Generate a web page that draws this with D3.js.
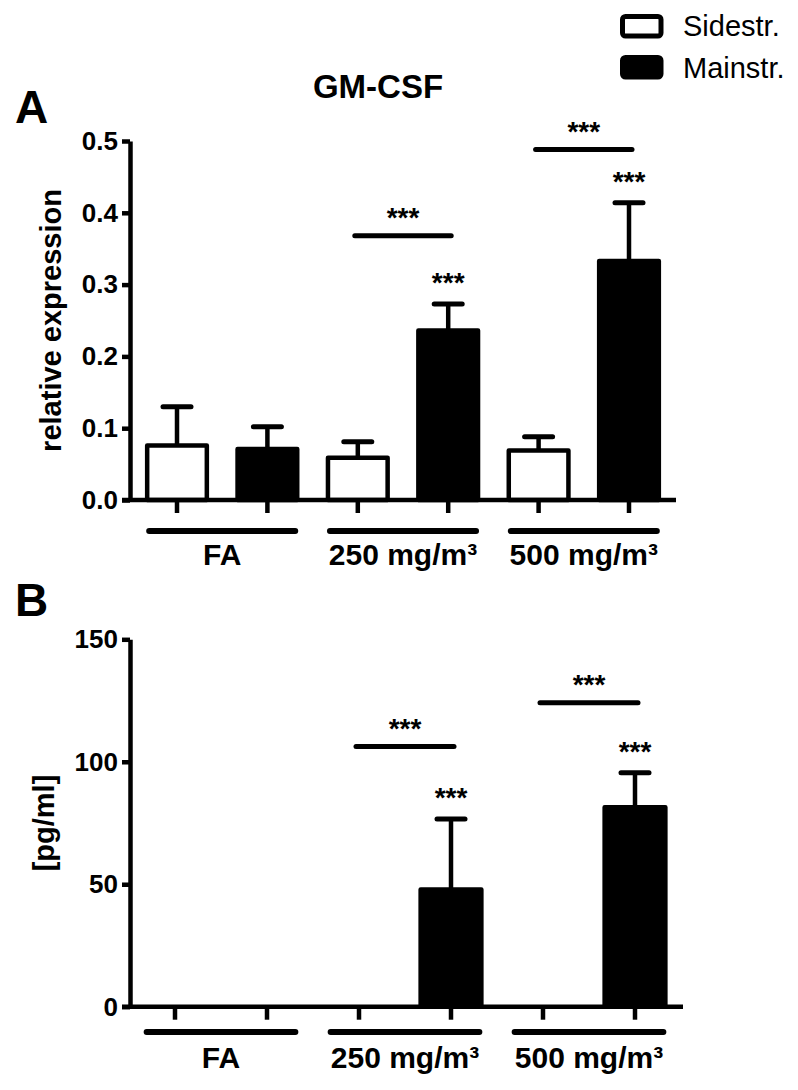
<!DOCTYPE html>
<html>
<head>
<meta charset="utf-8">
<script src="https://cdn.jsdelivr.net/npm/d3@7"></script>
<style>
  body { margin: 0; background: #fff; }
  svg { display: block; font-family: "Liberation Sans", Arial, sans-serif; }
</style>
</head>
<body>
<div id="main-chart"></div>
<script>
const width = 798;
const height = 1090;

const groups = ["FA", "250 mg/m³", "500 mg/m³"];
const seriesNames = ["Sidestr.", "Mainstr."];

// panel A - relative expression
const exprSide = [0.076, 0.059, 0.069];
const exprSideErr = [0.054, 0.022, 0.019];
const exprMain = [0.071, 0.236, 0.333];
const exprMainErr = [0.031, 0.037, 0.081];
const exprTicks = [0, 0.1, 0.2, 0.3, 0.4, 0.5];
const exprBrackets = [null, 0.368, 0.488];
const exprMainStars = ["", "***", "***"];

// panel B - pg/ml
const pgSide = [0, 0, 0];
const pgSideErr = [0, 0, 0];
const pgMain = [0, 47.8, 81.4];
const pgMainErr = [0, 28.8, 14.1];
const pgTicks = [0, 50, 100, 150];
const pgBrackets = [null, 106.2, 124.1];
const pgMainStars = ["", "***", "***"];

const lineW = 4.5;

const panelA = {
  letter: "A", letterY: 123,
  yTop: 141, yBottom: 500,
  xLeft: 131.8, xRight: 674.2, axisEnd: 676,
  groupLineY: 531, groupLabelY: 565,
  title: "relative expression", titleX: 61,
  format: d3.format(".1f"),
};
const panelB = {
  letter: "B", letterY: 616,
  yTop: 639.3, yBottom: 1006.7,
  xLeft: 129, xRight: 681, axisEnd: 683,
  groupLineY: 1032, groupLabelY: 1068,
  title: "[pg/ml]", titleX: 54,
  format: d3.format("d"),
};

const drawPanel = (svg, cfg, side, sideErr, main, mainErr, ticks, brackets, mainStars) => {
  const y = d3
    .scaleLinear()
    .domain([0, ticks[ticks.length - 1]])
    .range([cfg.yBottom, cfg.yTop]);
  const xGroup = d3.scaleBand().domain(groups).range([cfg.xLeft, cfg.xRight]).padding(0);
  const xSeries = d3
    .scaleBand()
    .domain(seriesNames)
    .range([0, xGroup.bandwidth()])
    .paddingInner(0.34)
    .paddingOuter(0.17);

  const rows = groups.flatMap((grp, i) => [
    { group: grp, series: seriesNames[0], value: side[i], err: sideErr[i] },
    { group: grp, series: seriesNames[1], value: main[i], err: mainErr[i] },
  ]);
  const barX = (d) => xGroup(d.group) + xSeries(d.series);
  const center = (grp, s) => xGroup(grp) + xSeries(s) + xSeries.bandwidth() / 2;

  const g = svg.append("g");

  // panel letter
  g.append("text")
    .attr("x", 15)
    .attr("y", cfg.letterY)
    .attr("font-size", 46)
    .attr("font-weight", "bold")
    .text(cfg.letter);

  // error bars (upper only)
  const errRows = rows.filter((d) => d.err > 0);
  g.selectAll(".err-stem")
    .data(errRows)
    .join("line")
    .attr("class", "err-stem")
    .attr("x1", (d) => center(d.group, d.series))
    .attr("x2", (d) => center(d.group, d.series))
    .attr("y1", (d) => y(d.value))
    .attr("y2", (d) => y(d.value + d.err))
    .attr("stroke", "#000")
    .attr("stroke-width", lineW);
  g.selectAll(".err-cap")
    .data(errRows)
    .join("line")
    .attr("class", "err-cap")
    .attr("x1", (d) => center(d.group, d.series) - 14)
    .attr("x2", (d) => center(d.group, d.series) + 14)
    .attr("y1", (d) => y(d.value + d.err))
    .attr("y2", (d) => y(d.value + d.err))
    .attr("stroke", "#000")
    .attr("stroke-width", 5)
    .attr("stroke-linecap", "round");

  // bars
  g.selectAll(".bar")
    .data(rows.filter((d) => d.value > 0))
    .join("rect")
    .attr("class", "bar")
    .attr("x", barX)
    .attr("width", xSeries.bandwidth())
    .attr("y", (d) => y(d.value))
    .attr("height", (d) => y(0) - y(d.value))
    .attr("fill", (d) => (d.series === seriesNames[0] ? "#fff" : "#000"))
    .attr("stroke", "#000")
    .attr("stroke-width", lineW)
    .attr("stroke-linejoin", "round");

  // y axis
  g.append("g")
    .attr("transform", "translate(130,0)")
    .call(
      d3.axisLeft(y).tickValues(ticks).tickSize(8).tickSizeOuter(0).tickPadding(4).tickFormat(cfg.format)
    )
    .call((a) => a.select(".domain").attr("stroke-width", lineW))
    .call((a) => a.selectAll(".tick line").attr("stroke-width", lineW))
    .call((a) =>
      a.selectAll(".tick text")
        .attr("font-family", null)
        .attr("font-size", 26)
        .attr("font-weight", "bold")
        .attr("fill", "#000")
    );

  // x axis line + ticks at bar centres
  g.append("line")
    .attr("x1", 122)
    .attr("x2", cfg.axisEnd)
    .attr("y1", y(0))
    .attr("y2", y(0))
    .attr("stroke", "#000")
    .attr("stroke-width", lineW);
  g.selectAll(".x-tick")
    .data(rows)
    .join("line")
    .attr("class", "x-tick")
    .attr("x1", (d) => center(d.group, d.series))
    .attr("x2", (d) => center(d.group, d.series))
    .attr("y1", y(0))
    .attr("y2", y(0) + 13)
    .attr("stroke", "#000")
    .attr("stroke-width", lineW);

  // y title
  g.append("text")
    .attr("transform", `translate(${cfg.titleX},${(cfg.yTop + cfg.yBottom) / 2}) rotate(-90)`)
    .attr("text-anchor", "middle")
    .attr("font-size", 29)
    .attr("font-weight", "bold")
    .text(cfg.title);

  // group lines and labels
  g.selectAll(".group-line")
    .data(groups)
    .join("line")
    .attr("class", "group-line")
    .attr("x1", (grp) => xGroup(grp) + xSeries(seriesNames[0]) + 2)
    .attr("x2", (grp) => xGroup(grp) + xSeries(seriesNames[1]) + xSeries.bandwidth() - 2)
    .attr("y1", cfg.groupLineY)
    .attr("y2", cfg.groupLineY)
    .attr("stroke", "#000")
    .attr("stroke-width", 6)
    .attr("stroke-linecap", "round");
  g.selectAll(".group-label")
    .data(groups)
    .join("text")
    .attr("class", "group-label")
    .attr("x", (grp) => xGroup(grp) + xGroup.bandwidth() / 2)
    .attr("y", cfg.groupLabelY)
    .attr("text-anchor", "middle")
    .attr("font-size", 30)
    .attr("font-weight", "bold")
    .text((grp) => grp);

  // significance brackets
  const brk = groups.map((grp, i) => ({ group: grp, v: brackets[i] })).filter((d) => d.v !== null);
  g.selectAll(".bracket")
    .data(brk)
    .join("line")
    .attr("class", "bracket")
    .attr("x1", (d) => center(d.group, seriesNames[0]) - 3)
    .attr("x2", (d) => center(d.group, seriesNames[1]) + 3)
    .attr("y1", (d) => y(d.v))
    .attr("y2", (d) => y(d.v))
    .attr("stroke", "#000")
    .attr("stroke-width", 5)
    .attr("stroke-linecap", "round");
  g.selectAll(".bracket-star")
    .data(brk)
    .join("text")
    .attr("class", "bracket-star")
    .attr("x", (d) => (center(d.group, seriesNames[0]) + center(d.group, seriesNames[1])) / 2)
    .attr("y", (d) => y(d.v) - 9)
    .attr("text-anchor", "middle")
    .attr("font-size", 28)
    .attr("font-weight", "bold")
    .text("***");

  // stars over Mainstr. bars
  g.selectAll(".main-star")
    .data(groups.map((grp, i) => ({ group: grp, top: main[i] + mainErr[i], s: mainStars[i] })).filter((d) => d.s))
    .join("text")
    .attr("class", "main-star")
    .attr("x", (d) => center(d.group, seriesNames[1]))
    .attr("y", (d) => y(d.top) - 12)
    .attr("text-anchor", "middle")
    .attr("font-size", 28)
    .attr("font-weight", "bold")
    .text((d) => d.s);
};

const main = () => {
  const svg = d3
    .select("#main-chart")
    .append("svg")
    .attr("width", width)
    .attr("height", height);

  svg.append("rect").attr("width", width).attr("height", height).attr("fill", "#fff");

  // title
  svg.append("text")
    .attr("x", 378)
    .attr("y", 98)
    .attr("text-anchor", "middle")
    .attr("font-size", 33)
    .attr("font-weight", "bold")
    .text("GM-CSF");

  // legend
  const legend = svg.append("g").attr("transform", "translate(622,0)");
  legend
    .selectAll("rect")
    .data(seriesNames)
    .join("rect")
    .attr("x", 0.5)
    .attr("y", (d, i) => 16.5 + i * 41)
    .attr("width", 38.5)
    .attr("height", 19.5)
    .attr("rx", 3)
    .attr("fill", (d, i) => (i === 0 ? "#fff" : "#000"))
    .attr("stroke", "#000")
    .attr("stroke-width", 5);
  legend
    .selectAll("text")
    .data(seriesNames)
    .join("text")
    .attr("x", 61)
    .attr("y", (d, i) => 36 + i * 42)
    .attr("font-size", 29)
    .text((d) => d);

  drawPanel(svg, panelA, exprSide, exprSideErr, exprMain, exprMainErr, exprTicks, exprBrackets, exprMainStars);
  drawPanel(svg, panelB, pgSide, pgSideErr, pgMain, pgMainErr, pgTicks, pgBrackets, pgMainStars);
};

main();
</script>
</body>
</html>
